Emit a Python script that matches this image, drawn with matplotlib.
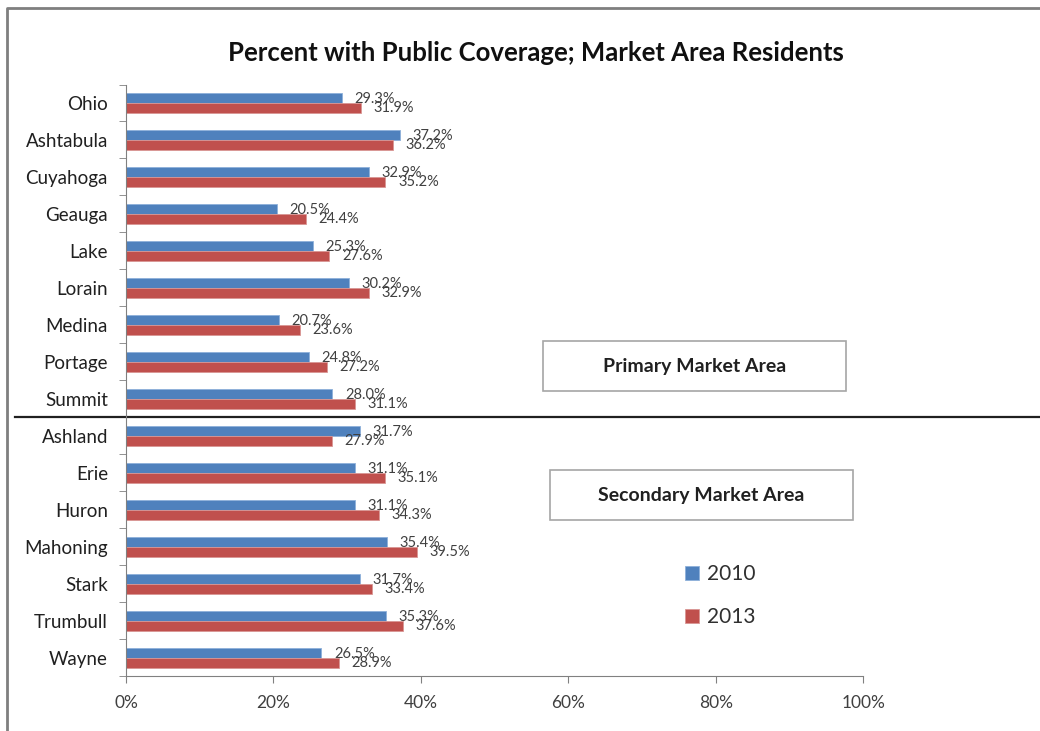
import numpy as np
import matplotlib
matplotlib.use("Agg")
import matplotlib.pyplot as plt
from matplotlib.patches import Rectangle
from matplotlib.lines import Line2D
import matplotlib.transforms as mtransforms

plt.rcParams['font.family'] = ['Lato', 'DejaVu Sans']

# data
counties = ["Ohio", "Ashtabula", "Cuyahoga", "Geauga", "Lake", "Lorain", "Medina",
            "Portage", "Summit", "Ashland", "Erie", "Huron", "Mahoning", "Stark",
            "Trumbull", "Wayne"]
pct_2010 = [29.3, 37.2, 32.9, 20.5, 25.3, 30.2, 20.7, 24.8, 28.0,
            31.7, 31.1, 31.1, 35.4, 31.7, 35.3, 26.5]
pct_2013 = [31.9, 36.2, 35.2, 24.4, 27.6, 32.9, 23.6, 27.2, 31.1,
            27.9, 35.1, 34.3, 39.5, 33.4, 37.6, 28.9]
n_primary = 9

blue = "#4F81BD"
red = "#C0504D"

fig = plt.figure(figsize=(10.4, 7.31), dpi=100)
ax = fig.add_axes([0.1212, 0.0752, 0.7087, 0.8092])

y = np.arange(len(counties))
h = 0.27
b1 = ax.barh(y - h / 2, pct_2010, height=h, color=blue, edgecolor="#8DB0DA", linewidth=0.6, label="2010")
b2 = ax.barh(y + h / 2, pct_2013, height=h, color=red, edgecolor="#D99694", linewidth=0.6, label="2013")

# data labels overlap each other in the original too
for yy, v in zip(y, pct_2010):
    ax.annotate(f"{v:.1f}%", (v, yy - h / 2 + 0.03), xytext=(9, 0), textcoords="offset points",
                va="center", ha="left", fontsize=10.5, color="#404040")
for yy, v in zip(y, pct_2013):
    ax.annotate(f"{v:.1f}%", (v, yy + h / 2), xytext=(9, 0), textcoords="offset points",
                va="center", ha="left", fontsize=10.5, color="#404040")

ax.set_xlim(0, 100)
ax.set_ylim(len(counties) - 0.5, -0.5)
ax.set_xticks(range(0, 101, 20))
ax.set_xticklabels([f"{t}%" for t in range(0, 101, 20)], fontsize=12.5, color="#404040")
ax.set_yticks(y)
ax.set_yticklabels(counties, fontsize=13.5, color="#202020")
ax.set_yticks(np.arange(-0.5, len(counties), 1), minor=True)
ax.tick_params(axis="y", which="major", length=0, pad=13)
ax.tick_params(axis="y", which="minor", length=5, color="#808080")
ax.tick_params(axis="x", length=5, color="#808080", pad=9)
for s in ["top", "right"]:
    ax.spines[s].set_visible(False)
for s in ["left", "bottom"]:
    ax.spines[s].set_color("#808080")

# divider between primary and secondary areas
trans = mtransforms.blended_transform_factory(ax.transAxes, ax.transData)
ax.plot([-0.15, 1.25], [n_primary - 0.5, n_primary - 0.5], color="#202020", lw=1.6,
        transform=trans, clip_on=False)

fig.text(0.515, 0.928, "Percent with Public Coverage; Market Area Residents",
         ha="center", va="center", fontsize=18.5, fontweight="bold", color="#101010")

# area boxes
for (x0, y0, txt) in [(0.522, 0.465, "Primary Market Area"), (0.529, 0.2886, "Secondary Market Area")]:
    fig.patches.append(Rectangle((x0, y0), 0.291, 0.0684, transform=fig.transFigure,
                                 facecolor="white", edgecolor="#A6A6A6", lw=1.2))
    fig.text(x0 + 0.1455, y0 + 0.034, txt, ha="center", va="center", fontsize=14,
             fontweight="bold", color="#202020")

fig.legend(handles=[b1, b2], labels=["2010", "2013"], loc="upper left",
           bbox_to_anchor=(0.641, 0.254), frameon=False, fontsize=15,
           handlelength=0.65, handleheight=0.65, handletextpad=0.4, labelspacing=1.1,
           labelcolor="#303030")

# outer frame (left and top only, like the clipped screenshot)
fig.lines.append(Line2D([0.007, 0.007, 1.0], [0.0, 0.989, 0.989], transform=fig.transFigure,
                        color="#7F7F7F", lw=2))

fig.savefig("out.png", dpi=100)
